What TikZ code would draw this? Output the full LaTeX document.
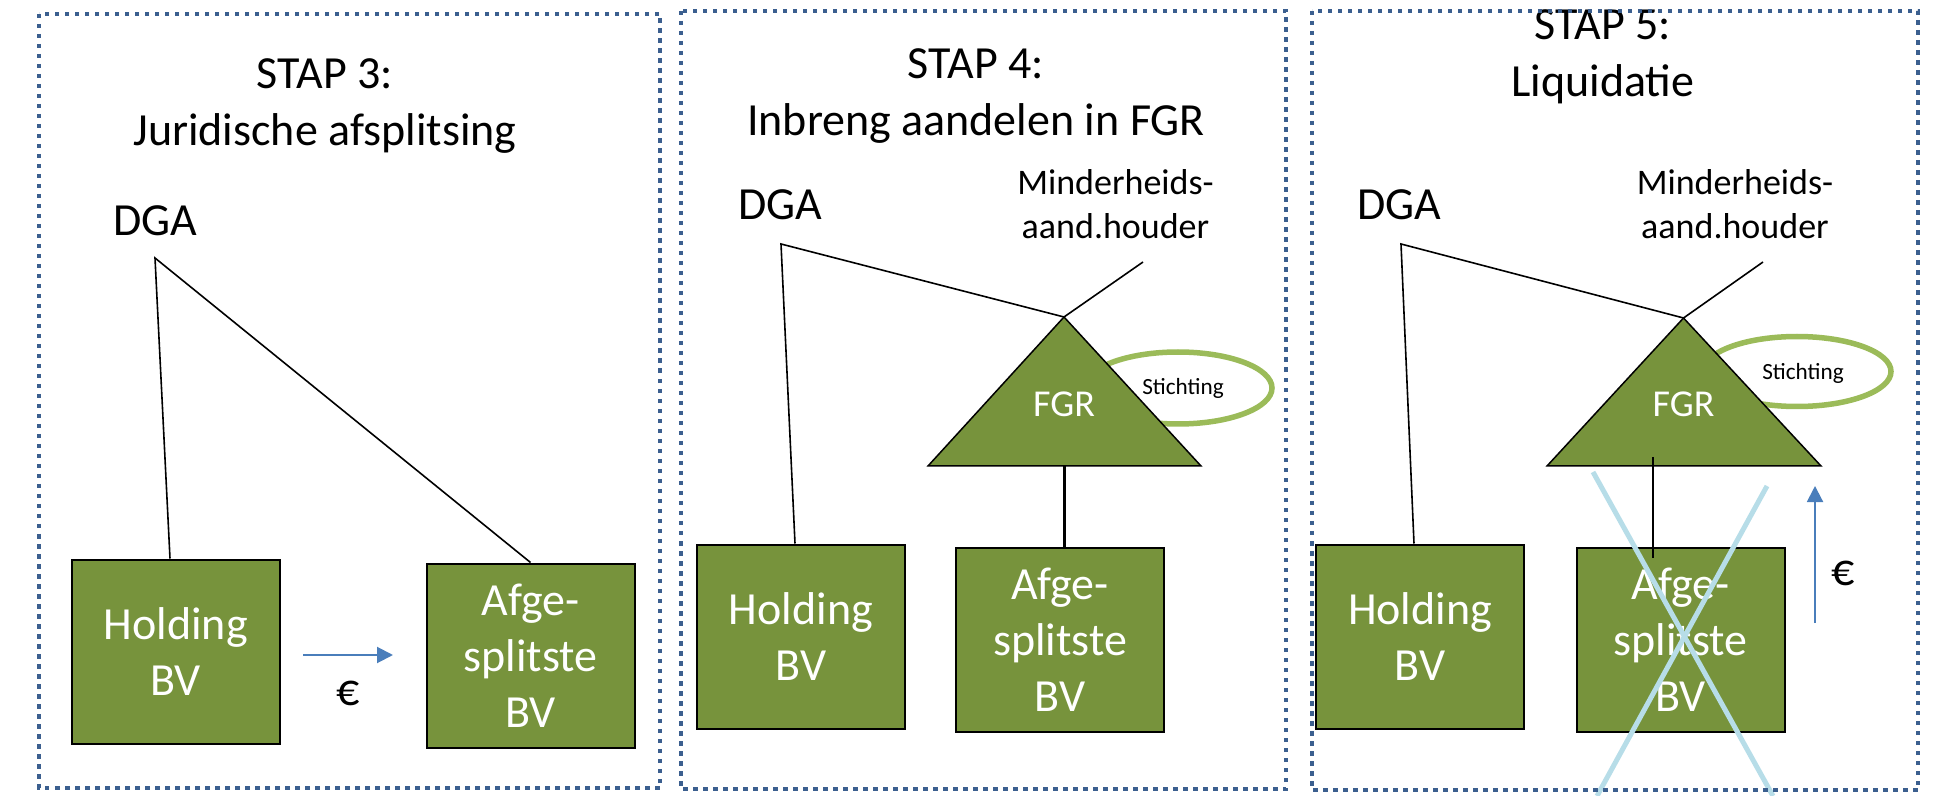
\documentclass[tikz,border=0pt]{standalone}
\usepackage{fontspec}
\setmainfont{Carlito}
\usetikzlibrary{arrows.meta,calc}
\definecolor{framecol}{RGB}{59,95,143}
\definecolor{boxgreen}{RGB}{119,147,60}
\definecolor{ringgreen}{RGB}{155,187,89}
\definecolor{arrowblue}{RGB}{74,126,187}
\definecolor{crossblue}{RGB}{183,221,232}
\begin{document}
\begin{tikzpicture}[x=0.5pt,y=-0.5pt,
 panel/.style={draw=framecol, line width=2.25pt, dash pattern=on 2.25pt off 2.75pt},
 title/.style={font=\fontsize{23}{28.5}\selectfont, align=center, anchor=north, inner sep=0pt},
 person/.style={font=\fontsize{23}{28}\selectfont, anchor=base, inner sep=0pt},
 minority/.style={font=\fontsize{18}{22}\selectfont, align=center, anchor=north, inner sep=0pt},
 company/.style={draw=black, line width=1pt, fill=boxgreen, text=white, minimum width=104pt, minimum height=92pt, inner sep=0pt, align=center, font=\fontsize{23}{28}\selectfont},
 link/.style={draw=black, line width=0.8pt},
 fund/.style={draw=black, line width=0.75pt, fill=boxgreen},
 ring/.style={draw=ringgreen, line width=2.75pt},
 money/.style={draw=arrowblue, line width=1pt, -{Triangle[length=8pt,width=8pt]}},
 cross/.style={draw=crossblue, line width=2.5pt},
 euro/.style={font=\fontsize{23}{28}\selectfont, anchor=base, inner sep=0pt},
 fundlabel/.style={font=\fontsize{19}{23}\selectfont, text=white, anchor=base, inner sep=0pt},
 ringlabel/.style={font=\fontsize{11.6}{14}\selectfont, anchor=base, inner sep=0pt}]

\useasboundingbox (0,0) rectangle (1933,796);

% ---------- Panel 1 ----------
\node[title] (t1) at (325,58) {STAP 3:\\Juridische afsplitsing};
\node[person] (dga1) at (155.5,236) {DGA};
\coordinate (ap1) at (155,258);
\node[company] (h1) at (175.75,651.5) {Holding\\BV};
\node[company] (a1) at (530.5,655.5) {Afge-\\splitste\\BV};
\draw[link] ($(h1.north)+(-5.75,0)$) -- (ap1) -- (a1.north);
\coordinate (m1s) at (303,655);
\coordinate (m1e) at (393,655);
\draw[money] (m1s) -- (m1e);
\node[euro] (e1) at (348,705) {€};

% ---------- Panel 2 ----------
\node[title] (t2) at (976,48) {STAP 4:\\Inbreng aandelen in FGR};
\node[person] (dga2) at (780,220) {DGA};
\node[minority] (min2) at (1115.5,169) {Minderheids-\\aand.houder};
\coordinate (ap2) at (781,244);
\coordinate (mt2) at (1143,262);
\draw[ring] (1178,388) ellipse [x radius=94, y radius=36];
\coordinate (ft2) at (1064,317);
\coordinate (fl2) at (928,466);
\coordinate (fr2) at (1201,466);
\coordinate (fb2) at (1064,466);
\draw[fund] (ft2) -- (fl2) -- (fr2) -- cycle;
\node[fundlabel] (fgr2) at (1064,417) {FGR};
\node[ringlabel] (st2) at (1183,395) {Stichting};
\node[company] (h2) at (801,636.5) {Holding\\BV};
\node[company] (a2) at (1060,640) {Afge-\\splitste\\BV};
\draw[link] ($(h2.north)+(-6,0)$) -- (ap2) -- (ft2) -- (mt2);
\draw[link, line width=1.5pt] (fb2) -- (fb2 |- a2.north);

% ---------- Panel 3 ----------
\node[title] (t3) at (1603,9) {STAP 5:\\Liquidatie};
\node[person] (dga3) at (1399.5,220) {DGA};
\node[minority] (min3) at (1735,169) {Minderheids-\\aand.houder};
\coordinate (ap3) at (1401,244);
\coordinate (mt3) at (1763,262);
\draw[ring] (1797,371.5) ellipse [x radius=94, y radius=35];
\coordinate (ft3) at (1683.5,318);
\coordinate (fl3) at (1547,466);
\coordinate (fr3) at (1821,466);
\draw[fund] (ft3) -- (fl3) -- (fr3) -- cycle;
\node[fundlabel] (fgr3) at (1683.5,417) {FGR};
\node[ringlabel] (st3) at (1803,380) {Stichting};
\node[company] (h3) at (1420,636.5) {Holding\\BV};
\node[company] (a3) at (1680.5,640) {Afge-\\splitste\\BV};
\draw[link] ($(h3.north)+(-6,0)$) -- (ap3) -- (ft3) -- (mt3);
\coordinate (v3a) at (1653,457);
\coordinate (v3b) at (1653,558);
\draw[link] (v3a) -- (v3b);
\coordinate (m3s) at (1815,623);
\coordinate (m3e) at (1815,486);
\draw[money] (m3s) -- (m3e);
\node[euro] (e3) at (1843,585) {€};
\coordinate (c1a) at (1593,472);
\coordinate (c1b) at (1773,796);
\coordinate (c2a) at (1767,486);
\coordinate (c2b) at (1597,796);
\draw[cross] (c1a) -- (c1b);
\draw[cross] (c2a) -- (c2b);

% ---------- Frames ----------
\draw[panel] (39,14) rectangle (660,788);
\draw[panel] (681,11) rectangle (1286,789);
\draw[panel] (1312,11) rectangle (1918,790);
\end{tikzpicture}
\end{document}
